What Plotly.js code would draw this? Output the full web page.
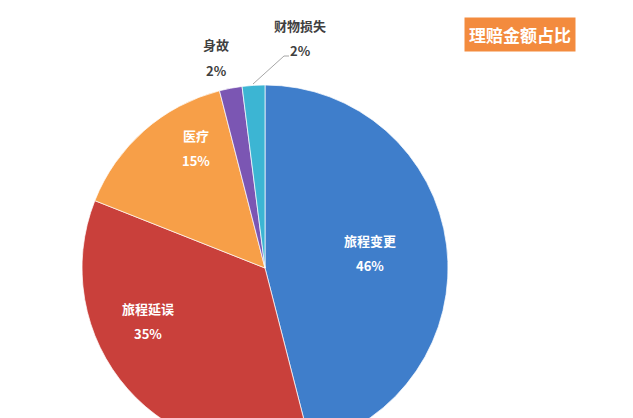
<!DOCTYPE html>
<html>
<head>
<meta charset="utf-8">
<script src="https://cdn.plot.ly/plotly-3.0.1.min.js"></script>
<style>
html,body{margin:0;padding:0;overflow:hidden;background:#fff;width:633px;height:418px;}
#chart{width:633px;height:460px;}
</style>
</head>
<body>
<div id="chart"></div>
<script>
const categories = ["旅程变更", "旅程延误", "医疗", "身故", "财物损失"];
const values = [46, 35, 15, 2, 2];
const colors = ["#3F7ECB", "#C9403B", "#F79F48", "#7B56B3", "#3CB5D3"];
const textColors = ["#ffffff", "#ffffff", "#ffffff", "#404040", "#404040"];
const chartTitle = "理赔金额占比";

const H = 460, W = 633;
// label anchor positions in pixels (x, y of category line; percent line below)
const labelPos = [[370, 240], [148, 308], [196, 135], [216, 45], [300, 25]];
const pctGap = 25;

const total = values.reduce((a, b) => a + b, 0);

const trace = {
  type: "pie",
  labels: categories,
  values: values,
  sort: false,
  direction: "clockwise",
  rotation: 0,
  marker: {colors: colors, line: {color: "rgba(255,255,255,0.7)", width: 1}},
  textinfo: "none",
  domain: {x: [82/W, 448/W], y: [1 - 451/H, 1 - 85/H]},
  showlegend: false,
  hoverinfo: "none"
};

const annotations = [];
categories.forEach((c, i) => {
  const [px, py] = labelPos[i];
  const font = {family: "Noto Sans CJK SC, sans-serif", size: 13, color: textColors[i]};
  annotations.push({
    text: "<b>" + c + "</b>", xref: "paper", yref: "paper",
    x: px / W, y: 1 - py / H, xanchor: "center", yanchor: "middle",
    showarrow: false, font: font
  });
  annotations.push({
    text: "<b>" + Math.round(values[i] / total * 100) + "%</b>", xref: "paper", yref: "paper",
    x: px / W, y: 1 - (py + pctGap) / H, xanchor: "center", yanchor: "middle",
    showarrow: false, font: font
  });
});

annotations.push({
  text: "<b>" + chartTitle + "</b>",
  xref: "paper", yref: "paper",
  x: 520/W, y: 1 - 34/H,
  xanchor: "center", yanchor: "middle",
  showarrow: false,
  bgcolor: "#F38B3E",
  borderpad: 4,
  font: {family: "Noto Sans CJK SC, sans-serif", size: 17, color: "#ffffff"}
});

const layout = {
  width: W,
  height: H,
  margin: {l: 0, r: 0, t: 0, b: 0},
  paper_bgcolor: "#ffffff",
  plot_bgcolor: "#ffffff",
  annotations: annotations,
  shapes: [{
    type: "path", xref: "paper", yref: "paper",
    path: "M " + (253/W) + " " + (1 - 84/H) + " L " + (284/W) + " " + (1 - 56/H) + " L " + (289/W) + " " + (1 - 56/H),
    line: {color: "#A6A6A6", width: 1}
  }]
};

Plotly.newPlot("chart", [trace], layout, {displayModeBar: false, staticPlot: true});
</script>
</body>
</html>
